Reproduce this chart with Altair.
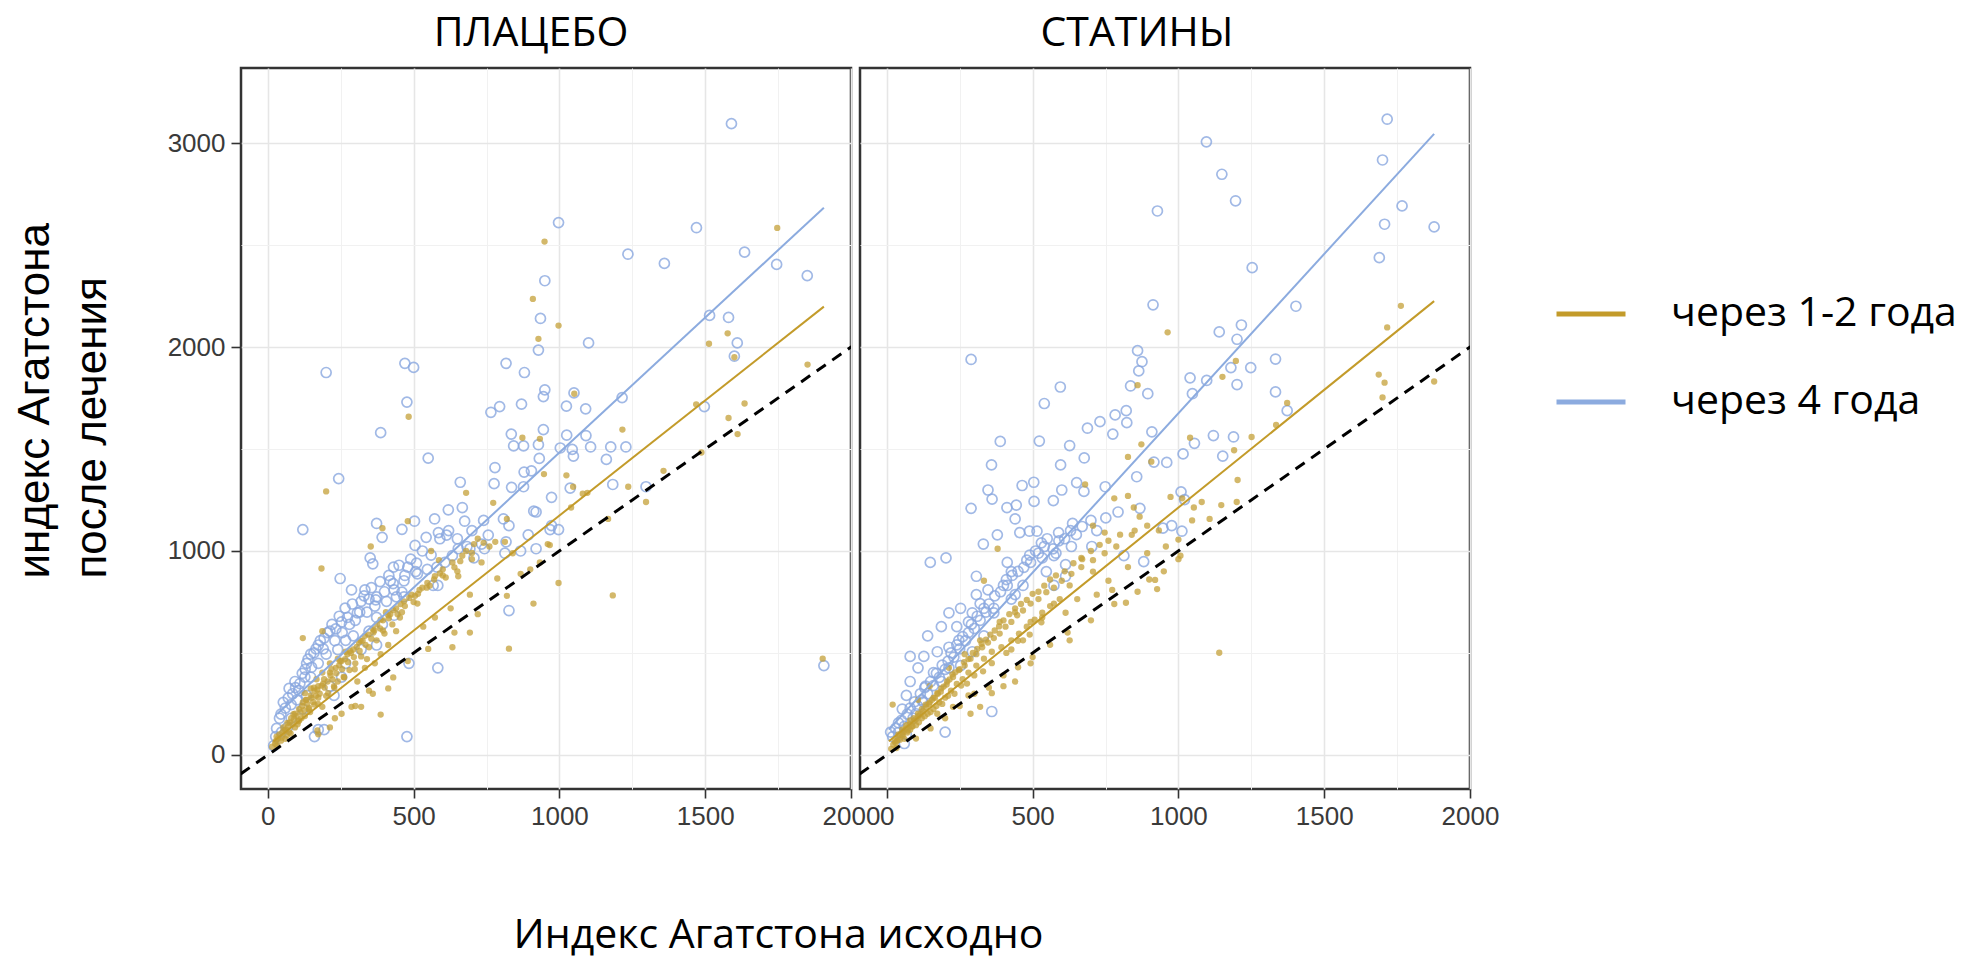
import altair as alt
import pandas as pd

# ---------------- data ----------------
# ПЛАЦЕБО, через 1-2 года (filled gold dots)
plac12_x = [1747, 949, 909, 997, 928, 1577, 1513, 1851, 1635, 1580, 1611, 1487, 1469, 483, 1051, 1216, 200, 947, 1024, 1047,
            1096, 1236, 1297, 1357, 1167, 997, 1183, 911, 827, 693, 633, 120, 184, 480, 393, 353, 813, 873, 933, 967,
            820, 773, 680, 867, 900, 933, 560, 587, 653, 693, 733, 760, 780, 573, 627, 513, 533, 440, 387, 333,
            287, 320, 387, 413, 347, 1903, 1600, 960, 840, 787, 1040, 1080,
            27, 40, 53, 67, 80, 93, 107, 120, 133, 147, 160, 173, 193, 213, 233, 253, 273, 293, 313, 333,
            360, 387, 413, 440, 467, 493, 520, 547, 573, 600, 633, 667, 707,
            33, 60, 73, 93, 107, 127, 140, 160, 173, 187, 207, 227, 240, 260, 280, 300, 320, 347, 373, 400,
            427, 453, 187, 167, 147, 127, 240, 267, 213, 173, 213, 253, 307, 367, 413, 187,
            15, 25, 35, 45, 50, 58, 65, 70, 75, 85, 90, 98, 105, 112, 118, 125, 135, 142, 150, 155,
            165, 170, 178, 185, 195, 205, 215, 222, 235, 245, 255, 265, 275, 285, 295, 305, 315, 325, 335, 345,
            355, 365, 375, 385, 395, 405, 415, 430, 445, 455, 470, 485, 500, 515, 530, 555, 570, 590, 610, 640,
            660, 680, 700, 720, 740, 170, 230, 300, 360, 430, 480, 550, 640, 720, 820,
            30, 48, 62, 78, 88, 102, 115, 130, 145, 158, 172, 190, 200, 218, 228, 248, 262, 282, 298, 318,
            340, 362, 395, 420, 460, 505, 545, 600, 650, 700]
plac12_y = [2584, 2517, 2236, 2105, 2040, 2067, 2016, 1914, 1723, 1652, 1573, 1483, 1719, 1658, 1771, 1595, 1292, 1377, 1371, 1315,
            1285, 1315, 1240, 1393, 1157, 843, 782, 742, 521, 600, 528, 573, 914, 1146, 1112, 1022, 1045, 1555, 1550, 1029,
            1157, 1236, 1285, 888, 910, 944, 1000, 955, 876, 786, 944, 1022, 1045, 674, 719, 742, 629, 607, 494, 427,
            236, 236, 198, 326, 315, 472, 1950, 1034, 989, 865, 1213, 1281,
            67, 101, 135, 157, 180, 202, 225, 258, 270, 292, 315, 337, 371, 404, 427, 461, 494, 517, 551, 584,
            618, 663, 685, 719, 753, 786, 809, 843, 876, 910, 944, 977, 1034,
            45, 79, 112, 135, 169, 191, 225, 247, 281, 236, 303, 337, 360, 382, 416, 449, 483, 528, 562, 595,
            640, 674, 404, 371, 326, 303, 472, 506, 449, 101, 135, 202, 360, 449, 539, 607,
            40, 55, 80, 70, 110, 120, 95, 140, 160, 150, 175, 190, 165, 210, 240, 220, 250, 230, 280, 260,
            290, 320, 300, 340, 330, 360, 390, 370, 400, 440, 420, 470, 455, 500, 480, 530, 510, 560, 540, 590,
            570, 610, 640, 620, 660, 700, 670, 710, 690, 740, 730, 770, 750, 790, 820, 830, 860, 890, 870, 920,
            950, 1000, 990, 1060, 1040, 120, 180, 240, 300, 380, 460, 520, 600, 690, 780,
            90, 85, 125, 105, 200, 150, 180, 270, 210, 330, 250, 350, 290, 420, 330, 460, 380, 510, 420, 560,
            470, 600, 610, 690, 700, 780, 820, 880, 900, 960]

# ПЛАЦЕБО, через 4 года (open blue circles)
plac4_x = [1590, 997, 1470, 1235, 1360, 1635, 1745, 1850, 950, 935, 1515, 1580, 1610, 1600, 1100, 928, 200, 470, 500, 817,
           880, 477, 387, 550, 243, 120, 950, 945, 765, 795, 870, 1024, 1050, 1090, 1215, 1497, 835, 877, 843, 945,
           928, 1025, 1091, 1003, 1044, 1048, 1107, 1176, 1228, 1161, 779, 879, 904, 931, 660, 776, 836, 877, 1183, 1297,
           973, 1037, 912, 667, 619, 572, 675, 373, 460, 503, 585, 613, 543, 505, 392, 756, 808, 817, 997, 968,
           683, 743, 351, 360, 431, 480, 513, 567, 583, 248, 287, 333, 373, 441, 460, 827, 484, 583, 477, 1907,
           40, 53, 73, 93, 133, 127, 147, 173, 193, 213, 233, 253, 273, 307, 240, 267, 173, 147, 107, 80,
           200, 320, 347, 367, 407, 433, 420, 467, 507, 547, 580, 607, 633, 653, 693, 707, 733, 467, 433, 393,
           373, 347, 293, 133, 173, 193, 160, 227, 120, 67, 267, 253, 213, 320, 373, 813, 867, 920, 973, 920,
           827, 893, 27, 47, 20, 80, 100,
           30, 45, 60, 70, 85, 95, 110, 118, 128, 138, 150, 158, 165, 180, 190, 205, 220, 230, 245, 255,
           265, 280, 290, 300, 315, 330, 340, 355, 370, 385, 400, 415, 430, 450, 470, 490, 510, 530, 560, 590,
           620, 650, 700, 740]
plac4_y = [3095, 2610, 2585, 2455, 2410, 2465, 2405, 2350, 2325, 2140, 2155, 2145, 2020, 1955, 2020, 1985, 1875, 1920, 1900, 1920,
           1875, 1730, 1580, 1455, 1355, 1105, 1790, 1757, 1680, 1708, 1720, 1710, 1775, 1697, 1752, 1708, 1573, 1515, 1515, 1595,
           1521, 1568, 1566, 1505, 1498, 1465, 1510, 1510, 1510, 1449, 1409, 1387, 1393, 1454, 1337, 1330, 1312, 1315, 1326, 1315,
           1263, 1308, 1195, 1213, 1202, 1157, 1146, 1135, 1106, 1146, 1090, 1078, 1067, 1027, 1067, 1078, 1157, 1045, 1105, 1105,
           1022, 1011, 966, 937, 921, 921, 888, 831, 831, 865, 809, 809, 775, 775, 798, 708, 449, 427, 90, 438,
           180, 258, 326, 360, 449, 382, 494, 539, 573, 607, 618, 652, 674, 697, 517, 562, 449, 382, 315, 247,
           494, 753, 764, 730, 753, 809, 854, 854, 899, 910, 921, 944, 977, 1011, 1011, 966, 1034, 775, 685, 640,
           674, 607, 584, 292, 124, 124, 90, 292, 225, 135, 449, 382, 337, 517, 539, 989, 1000, 1011, 1124, 1191,
           1124, 1079, 90, 112, 45, 180, 270,
           130, 200, 230, 280, 300, 330, 350, 400, 420, 470, 430, 500, 520, 560, 520, 600, 640, 560, 680, 600,
           720, 640, 740, 660, 700, 780, 700, 820, 760, 850, 800, 880, 840, 930, 880, 960, 940, 1000, 980, 1060,
           1100, 1060, 1100, 1150]

# СТАТИНЫ, через 1-2 года
stat12_x = [1763, 1716, 963, 1687, 1707, 1877, 1700, 1151, 1197, 1373, 1335, 1251, 1191, 1040, 873, 860, 827, 907, 1013, 973,
            1080, 1147, 1200, 1203, 1047, 1007, 957, 920, 927, 820, 1140, 680, 667, 747, 780, 827, 867, 893, 707, 760,
            720, 627, 653, 613, 573, 533, 493, 467, 427, 627, 493, 440, 400, 360, 320, 287, 380, 333, 20,
            1053, 1107, 1000, 933, 847, 893, 827, 773, 707,
            27, 40, 53, 67, 80, 93, 107, 120, 133, 147, 160, 173, 187, 207, 227, 247, 267, 287, 307, 327,
            347, 367, 387, 407, 427, 447, 467, 493, 520, 547, 573, 600, 633, 667, 707, 747, 787, 840,
            33, 60, 80, 100, 120, 140, 160, 180, 200, 220, 240, 260, 280, 307, 333, 360, 393, 427, 453, 480,
            507, 533, 560, 593, 173, 227, 280, 107, 147, 213, 267, 320, 387, 440,
            15, 22, 30, 38, 45, 52, 58, 65, 72, 78, 85, 92, 100, 108, 115, 125, 135, 145, 155, 165,
            175, 185, 195, 205, 215, 225, 235, 250, 265, 280, 295, 310, 325, 340, 355, 370, 385, 400, 420, 440,
            460, 480, 500, 520, 540, 560, 580, 610, 640, 670, 700, 730, 760, 800, 850,
            100, 150, 200, 250, 300, 350, 400, 450, 500, 560, 620, 700, 780, 860, 900, 950, 1000,
            35, 55, 70, 88, 110, 130, 150, 170, 190, 210, 232, 255, 275, 300, 330, 360, 410, 450, 490, 530]
stat12_y = [2202, 2096, 2072, 1865, 1825, 1831, 1753, 1854, 1932, 1726, 1618, 1559, 1494, 1555, 1523, 1813, 1461, 1438, 1258, 1265,
            1240, 1225, 1240, 1348, 1150, 977, 1022, 858, 813, 746, 501, 1326, 966, 1090, 1258, 1270, 1168, 1124, 899, 854,
            786, 831, 764, 697, 742, 674, 652, 562, 517, 562, 449, 360, 337, 303, 236, 202, 1011, 854, 247,
            1213, 1157, 1056, 1101, 1213, 989, 921, 809, 1124,
            67, 101, 124, 146, 169, 180, 202, 225, 247, 258, 281, 303, 326, 360, 382, 416, 438, 472, 494, 528,
            551, 573, 595, 629, 652, 685, 708, 742, 764, 798, 820, 854, 888, 921, 955, 989, 1022, 1079,
            34, 79, 124, 146, 180, 202, 225, 258, 281, 315, 348, 371, 404, 438, 472, 506, 528, 562, 595, 629,
            663, 697, 730, 764, 202, 236, 292, 270, 337, 427, 494, 562, 652, 719,
            30, 50, 60, 85, 75, 100, 115, 130, 120, 150, 140, 165, 175, 190, 200, 215, 235, 250, 270, 280,
            300, 310, 335, 345, 370, 395, 405, 420, 455, 470, 500, 520, 545, 565, 590, 610, 630, 660, 690, 700,
            740, 760, 790, 800, 830, 860, 880, 900, 940, 960, 1000, 1030, 1050, 1080, 1100,
            80, 130, 180, 240, 300, 330, 390, 430, 480, 540, 600, 660, 740, 800, 860, 900, 960,
            70, 95, 110, 140, 160, 190, 210, 240, 250, 290, 300, 340, 350, 390, 410, 450, 500, 560, 590, 650]

# СТАТИНЫ, через 4 года
stat4_x = [1716, 1096, 1149, 1196, 928, 1700, 1767, 1707, 1877, 1689, 1253, 1403, 913, 1140, 1216, 1201, 289, 860, 875, 864,
           1180, 1248, 1333, 1040, 1097, 1048, 1201, 1333, 1373, 595, 836, 895, 540, 783, 821, 823, 731, 688, 775, 909,
           1120, 1189, 1055, 1016, 1152, 389, 523, 627, 677, 916, 960, 359, 596, 857, 464, 504, 651, 676, 600, 749,
           571, 347, 361, 412, 444, 505, 289, 440, 515, 489, 456, 379, 331, 589, 637, 751, 793, 868, 977, 1012,
           947, 1009, 1021, 813, 881, 703,
           149, 203, 413, 493, 533, 573, 613, 307, 347, 413, 467, 547, 573, 213, 253, 293, 333, 367, 187, 240,
           280, 140, 247, 333, 80, 127, 173, 213, 293, 107, 160, 213, 253, 80, 133, 187, 67, 120, 53, 100,
           40, 13, 67, 200, 360, 60, 367, 427, 307, 540, 580, 633, 520, 480, 613, 427, 400, 440, 320,
           20, 30, 40, 50, 60, 70, 80, 90, 95, 105, 115, 125, 130, 140, 150, 160, 170, 180, 190, 200,
           210, 220, 230, 240, 250, 260, 270, 280, 290, 300, 310, 320, 340, 350, 370, 390, 410, 430, 450, 470,
           490, 510, 530, 550, 570, 590, 610, 630, 650, 670, 700, 720]
stat4_y = [3117, 3006, 2847, 2717, 2667, 2917, 2692, 2602, 2589, 2438, 2389, 2200, 2207, 2074, 2108, 2038, 1939, 1982, 1928, 1883,
           1899, 1899, 1941, 1849, 1836, 1771, 1816, 1780, 1688, 1804, 1809, 1771, 1723, 1667, 1688, 1629, 1634, 1602, 1573, 1584,
           1566, 1559, 1528, 1476, 1465, 1537, 1539, 1517, 1456, 1436, 1434, 1422, 1422, 1364, 1321, 1337, 1335, 1292, 1299, 1315,
           1247, 1299, 1254, 1213, 1225, 1243, 1209, 1157, 1097, 1097, 1090, 1079, 1034, 1090, 1135, 1162, 1191, 1209, 1124, 1097,
           1112, 1290, 1252, 977, 948, 1022,
           944, 966, 944, 944, 966, 977, 933, 876, 809, 831, 831, 899, 831, 697, 719, 697, 719, 719, 629, 629,
           652, 584, 562, 584, 483, 483, 506, 528, 506, 427, 404, 427, 438, 360, 337, 360, 292, 270, 225, 202,
           157, 112, 101, 112, 213, 56, 697, 764, 786, 1022, 989, 1022, 989, 955, 876, 899, 831, 786, 742,
           90, 130, 110, 170, 140, 200, 230, 180, 260, 240, 300, 260, 330, 300, 360, 340, 400, 380, 440, 420,
           460, 500, 480, 540, 520, 580, 560, 600, 640, 620, 680, 660, 700, 740, 780, 800, 860, 880, 900, 920,
           980, 1000, 1040, 1060, 1010, 1050, 1060, 1100, 1080, 1120, 1150, 1100]

# regression line end points
lines_panel = ["ПЛАЦЕБО", "ПЛАЦЕБО", "ПЛАЦЕБО", "ПЛАЦЕБО", "СТАТИНЫ", "СТАТИНЫ", "СТАТИНЫ", "СТАТИНЫ"]
lines_series = ["через 1-2 года", "через 1-2 года", "через 4 года", "через 4 года"] * 2
lines_x = [20, 1907, 33, 1907, 7, 1877, 7, 1877]
lines_y = [67, 2198, 202, 2683, 67, 2225, 124, 3045]

# identity line y = x
diag_x = [-200, 2200]
diag_y = [-200, 2200]

series_names = ["через 1-2 года", "через 4 года"]
series_colors = ["#C39B2A", "#8CABDF"]

x_ticks = [0, 250, 500, 750, 1000, 1250, 1500, 1750, 2000]
y_ticks = [0, 500, 1000, 1500, 2000, 2500, 3000]

# ---------------- build ----------------
X_DOM = [-92, 2000]
Y_DOM = [-167, 3368]
W, H = 610, 721

lines_df = pd.DataFrame({"panel": lines_panel, "series": lines_series, "base": lines_x, "after": lines_y})
diag_df = pd.DataFrame({"base": diag_x, "after": diag_y})

tick_font = "Liberation Sans"
txt_font = "Open Sans"


def x_axis(show_title):
    kw = dict(
        values=x_ticks, format="d",
        labelExpr="datum.value % 500 === 0 ? datum.label : ''",
        grid=True,
        gridColor={"condition": {"test": "datum.value % 500 === 0", "value": "#E6E6E6"}, "value": "#F1F1F1"},
        gridWidth={"condition": {"test": "datum.value % 500 === 0", "value": 1.6}, "value": 1.0},
        tickOpacity={"condition": {"test": "datum.value % 500 === 0", "value": 1}, "value": 0},
        domain=False, ticks=True, tickColor="#333333", tickWidth=1.6, tickSize=9,
        labelFont=tick_font, labelFontSize=26, labelColor="#3A3A3A", labelPadding=5,
        labelFlush=False, labelOverlap=False, labelBound=False,
    )
    if show_title:
        kw.update(title="Индекс Агатстона исходно", titleFont=txt_font, titleFontSize=41,
                  titleFontWeight="normal", titleColor="black", titleX=537, titleY=158,
                  titleAlign="center", titleBaseline="alphabetic")
    else:
        kw.update(title=None)
    return alt.Axis(**kw)


def y_axis(show):
    kw = dict(
        values=y_ticks, format="d",
        labelExpr="datum.value % 1000 === 0 ? datum.label : ''",
        grid=True,
        gridColor={"condition": {"test": "datum.value % 1000 === 0", "value": "#E6E6E6"}, "value": "#F1F1F1"},
        gridWidth={"condition": {"test": "datum.value % 1000 === 0", "value": 1.6}, "value": 1.0},
        domain=False,
    )
    if show:
        kw.update(
            ticks=True, tickColor="#333333", tickWidth=1.6, tickSize=10,
            tickOpacity={"condition": {"test": "datum.value % 1000 === 0", "value": 1}, "value": 0},
            labelFont=tick_font, labelFontSize=26, labelColor="#3A3A3A", labelPadding=6,
            labelFlush=False, labelOverlap=False,
            title=["индекс Агатстона", "после лечения"], titleFont=tick_font, titleFontSize=44,
            titleFontWeight="normal", titleColor="black", titleAngle=270, titleAlign="left",
            titleBaseline="top", titleX=-228, titleY=510, titleLineHeight=57,
        )
    else:
        kw.update(ticks=False, labels=False, title=None)
    return alt.Axis(**kw)


def panel(name, xs12, ys12, xs4, ys4, left, title_dx):
    p12 = pd.DataFrame({"base": xs12, "after": ys12})
    p4 = pd.DataFrame({"base": xs4, "after": ys4})
    ln = lines_df[lines_df["panel"] == name]
    xsc = alt.Scale(domain=X_DOM, nice=False, zero=False)
    ysc = alt.Scale(domain=Y_DOM, nice=False, zero=False)
    X = alt.X("base:Q", scale=xsc, axis=x_axis(left))
    Y = alt.Y("after:Q", scale=ysc, axis=y_axis(left))

    blue = alt.Chart(p4).mark_point(shape="circle", filled=False, size=100, strokeWidth=1.7,
                                    color="#8AA8E0", opacity=0.8).encode(x=X, y=Y)
    gold = alt.Chart(p12).mark_circle(size=40, color="#C4A038", opacity=0.75).encode(x=X, y=Y)
    reg = alt.Chart(ln).mark_line(strokeWidth=2).encode(
        x=X, y=Y,
        color=alt.Color("series:N", scale=alt.Scale(domain=series_names, range=series_colors),
                        legend=alt.Legend(
                            orient="none", legendX=1313, legendY=209, title=None,
                            symbolType="stroke", symbolStrokeWidth=5, symbolSize=4761,
                            labelFont=txt_font, labelFontSize=41, labelColor="black", labelLimit=0,
                            labelOffset=43, rowPadding=31, padding=0,
                        )),
        detail="series:N",
    )
    diag = alt.Chart(diag_df).mark_line(color="black", strokeWidth=3, strokeDash=[11, 8], clip=True).encode(x=X, y=Y)

    return alt.layer(blue, gold, reg, diag).properties(
        width=W, height=H,
        title=alt.TitleParams(name, font=txt_font, fontSize=41, fontWeight="normal", color="black",
                              anchor="middle", dx=title_dx, offset=-19, baseline="alphabetic"),
    )


left = panel("ПЛАЦЕБО", plac12_x, plac12_y, plac4_x, plac4_y, True, -15)
right = panel("СТАТИНЫ", stat12_x, stat12_y, stat4_x, stat4_y, False, -28)

chart = alt.hconcat(left, right, spacing=9, bounds="flush").configure_view(
    stroke="#333333", strokeWidth=2.5
).properties(
    padding={"left": 11, "top": 11, "right": 0, "bottom": 2},
    background="white",
)

chart.save("out.html", embed_options={"renderer": "svg", "actions": False})
